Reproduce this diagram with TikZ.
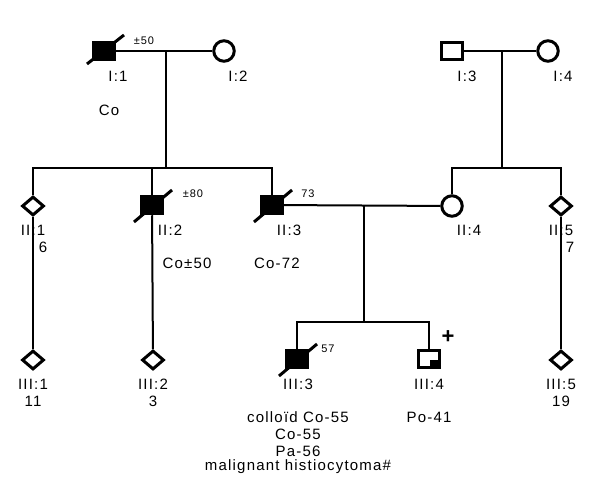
\documentclass[tikz,border=0pt]{standalone}
\usepackage{fontspec}
\setmainfont{Liberation Sans}[LetterSpace=8]
\usetikzlibrary{shapes.geometric}
\begin{document}
\begin{tikzpicture}[x=1pt,y=-1pt,
  lbl/.style={font=\fontsize{15}{16}\selectfont,inner sep=0pt,anchor=center},
  sml/.style={font=\fontsize{11}{12}\selectfont,inner sep=0pt,anchor=center},
  male/.style={draw,line width=3pt,minimum width=20.5pt,minimum height=17.5pt,inner sep=0pt,rectangle},
  affm/.style={male,fill=black},
  fem/.style={draw,line width=3pt,circle,minimum size=20.5pt,inner sep=0pt},
  unk/.style={draw,line width=3pt,diamond,minimum width=22pt,minimum height=19pt,inner sep=0pt},
  conn/.style={line width=2pt},
  slash/.style={line width=3pt}]
\useasboundingbox[fill=white] (0,0) rectangle (600,492);

% generation I
\node[affm] (I1) at (104,51) {};
\node[fem]  (I2) at (224,51) {};
\node[male] (I3) at (452,51) {};
\node[fem]  (I4) at (548,51) {};
\draw[slash] ([shift={(-17,13)}]I1.center) -- ([shift={(20,-16)}]I1.center);
\node[lbl] (tI1) at (118,76) {I:1};
\node[lbl] (tI2) at (238,76) {I:2};
\node[lbl] (tI3) at (467,76) {I:3};
\node[lbl] (tI4) at (563,76) {I:4};
\node[sml] (aI1) at (144,41) {±50};
\node[lbl] (cI1) at (109,110) {Co};

% generation II
\node[unk]  (II1) at (33,206) {};
\node[affm] (II2) at (152,205) {};
\node[affm] (II3) at (272,205) {};
\node[fem]  (II4) at (452,206) {};
\node[unk]  (II5) at (561,206) {};
\draw[slash] ([shift={(-18,17)}]II2.center) -- ([shift={(20,-15)}]II2.center);
\draw[slash] ([shift={(-18,17)}]II3.center) -- ([shift={(20,-15)}]II3.center);

\node[lbl] (tII1) at (33,230) {II:1};
\node[lbl] (nII1) at (43,247) {6};
\node[lbl] (tII2) at (170,230) {II:2};
\node[sml] (aII2) at (193,194) {±80};
\node[lbl] (cII2) at (187,263) {Co±50};
\node[lbl] (tII3) at (289,230) {II:3};
\node[sml] (aII3) at (308,194) {73};
\node[lbl] (cII3) at (277,263) {Co-72};
\node[lbl] (tII4) at (469,230) {II:4};
\node[lbl] (tII5) at (561,230) {II:5};
\node[lbl] (nII5) at (570,247) {7};

% generation III
\node[unk]  (III1) at (33,360) {};
\node[unk]  (III2) at (153,360) {};
\node[affm] (III3) at (297,359) {};
\node[male] (III4) at (429,359) {};
\node[unk]  (III5) at (561,360) {};
\draw[slash] ([shift={(-18,17)}]III3.center) -- ([shift={(20,-15)}]III3.center);
\fill ([shift={(0.5,0.5)}]III4.center) rectangle ([shift={(9,7.5)}]III4.center);
\node[inner sep=0pt,font=\fontsize{22}{22}\selectfont\bfseries] (plus) at (448,337) {+};

\node[lbl] (tIII1) at (33,384) {III:1};
\node[lbl] (nIII1) at (33,401) {11};
\node[lbl] (tIII2) at (153,384) {III:2};
\node[lbl] (nIII2) at (153,401) {3};
\node[lbl] (tIII3) at (298,384) {III:3};
\node[sml] (aIII3) at (328,349) {57};
\node[lbl] (tIII4) at (429,384) {III:4};
\node[lbl] (tIII5) at (561,384) {III:5};
\node[lbl] (nIII5) at (561,401) {19};
\node[lbl] (d1) at (298,417) {colloïd Co-55};
\node[lbl] (d2) at (298,434) {Co-55};
\node[lbl] (d3) at (298,451) {Pa-56};
\node[lbl] (d4) at (298,467) {malignant histiocytoma\#};
\node[lbl] (dIII4) at (429,417) {Po-41};

% connectors
\coordinate (m1) at (166,51);
\coordinate (s1) at (166,168);
\coordinate (m2) at (502,51);
\coordinate (s2) at (502,168);
\coordinate (m3) at (364,206);
\coordinate (s3) at (364,322);
\draw[conn] (I1) -- (I2);
\draw[conn] (I3) -- (I4);
\draw[conn] (m1) -- (s1);
\draw[conn] (m2) -- (s2);
\draw[conn] (II1) -- (II1 |- s1) -| (II3);
\draw[conn] (II2) -- (II2 |- s1);
\draw[conn] (II4) -- (II4 |- s2) -| (II5);
\draw[conn] (II3) -- (II4);
\draw[conn] (m3) -- (s3);
\draw[conn] (III3) -- (III3 |- s3) -| (III4);
\draw[conn] (II1) -- (III1);
\draw[conn] (II2) -- (III2);
\draw[conn] (II5) -- (III5);
\end{tikzpicture}
\end{document}
